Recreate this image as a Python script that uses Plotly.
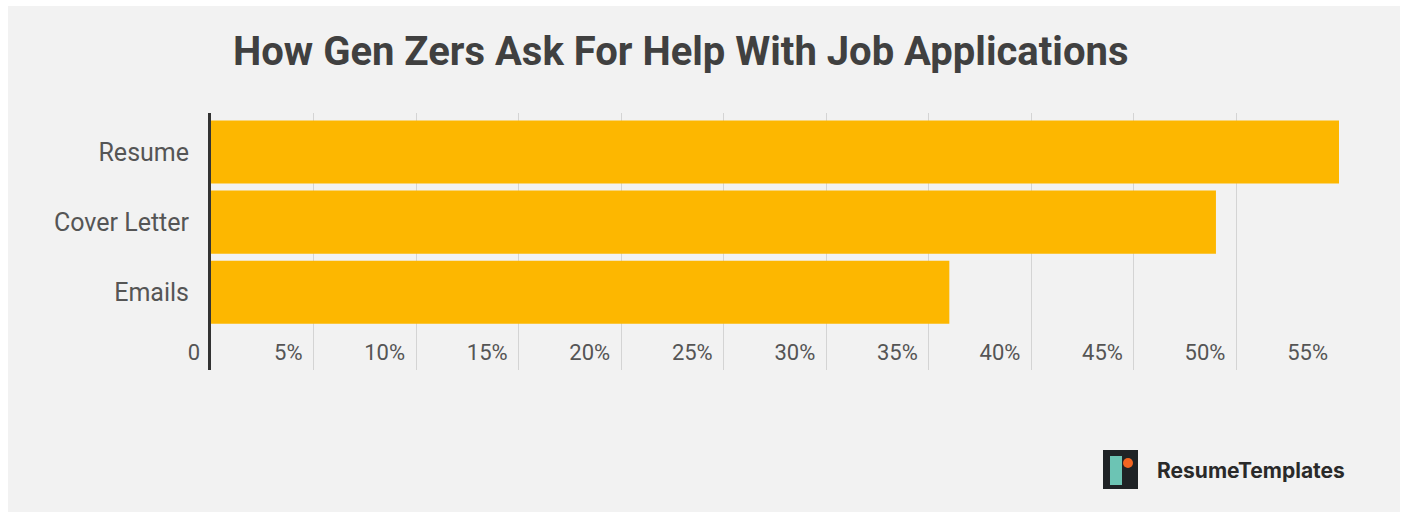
import plotly.graph_objects as go

categories = ["Resume", "Cover Letter", "Emails"]
values = [55, 49, 36]
tick_vals = [0, 5, 10, 15, 20, 25, 30, 35, 40, 45, 50, 55]
tick_text = ["0", "5%", "10%", "15%", "20%", "25%", "30%", "35%", "40%", "45%", "50%", "55%"]

W, H = 1403, 512
ML, MR, MT, MB = 211, 64, 113, 142
PW, PH = W - ML - MR, H - MT - MB

def px(x):
    return (x - ML) / PW

def py(y):
    return (H - MB - y) / PH

fig = go.Figure()
fig.add_trace(go.Bar(
    y=categories, x=values, orientation="h",
    marker=dict(color="#FDB700", line=dict(width=0)),
    hoverinfo="skip",
))

shapes = [
    dict(type="rect", xref="paper", yref="paper", x0=px(8), x1=px(1400), y0=py(6), y1=py(512),
         fillcolor="#f2f2f2", line=dict(width=0), layer="below"),
    dict(type="rect", xref="paper", yref="paper", x0=px(1103), x1=px(1138), y0=py(450), y1=py(489),
         fillcolor="#1f2326", line=dict(width=0), layer="above"),
    dict(type="rect", xref="paper", yref="paper", x0=px(1110), x1=px(1122), y0=py(456), y1=py(485),
         fillcolor="#6cc4b4", line=dict(width=0), layer="above"),
    dict(type="circle", xref="paper", yref="paper", x0=px(1123), x1=px(1133), y0=py(458), y1=py(468),
         fillcolor="#f26522", line=dict(width=0), layer="above"),
]

annotations = [
    dict(text="<b>How Gen Zers Ask For Help With Job Applications</b>", xref="paper", yref="paper",
         x=px(680), y=py(52), xanchor="center", yanchor="middle", showarrow=False,
         font=dict(family="Roboto", size=40, color="#404040")),
    dict(text="<b>ResumeTemplates</b>", xref="paper", yref="paper",
         x=px(1155), y=py(470), xanchor="left", yanchor="middle", showarrow=False,
         font=dict(family="Inter", size=21, color="#2a2a2a")),
]

fig.update_layout(
    width=W, height=H,
    margin=dict(l=ML, r=MR, t=MT, b=MB, pad=0),
    paper_bgcolor="white", plot_bgcolor="rgba(0,0,0,0)",
    bargap=0.1, showlegend=False,
    shapes=shapes, annotations=annotations,
    font=dict(family="Roboto", color="#555555"),
    xaxis=dict(range=[0, 55], tickvals=tick_vals, ticktext=tick_text,
               ticklabelposition="inside left", ticklabeloverflow="allow", ticklabelshift=-11,
               showgrid=True, gridcolor="#d4d4d4", gridwidth=1, zeroline=False,
               showline=False, tickfont=dict(size=22, color="#555555"), fixedrange=True),
    yaxis=dict(categoryorder="array", categoryarray=categories, range=[3.11, -0.557],
               showline=True, linecolor="#333333", linewidth=3, showgrid=False, zeroline=False,
               ticklabelstandoff=14, tickfont=dict(size=25, color="#555555"), fixedrange=True),
)

fig.write_html("out.html")
